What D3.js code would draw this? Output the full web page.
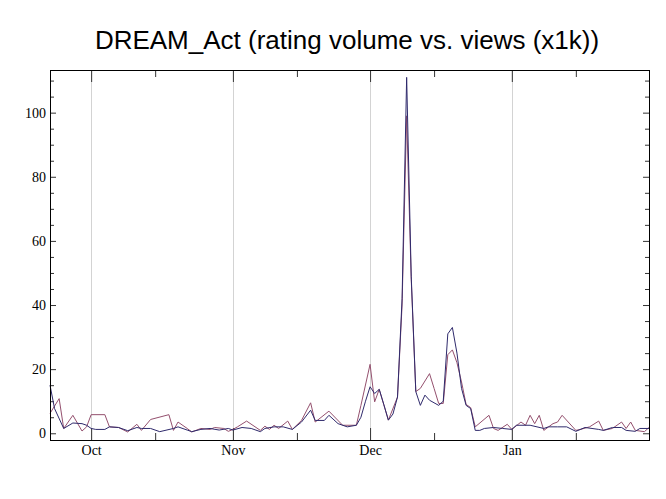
<!DOCTYPE html>
<html>
<head>
<meta charset="utf-8">
<script src="https://cdn.jsdelivr.net/npm/d3@7"></script>
<style>
  body { margin: 0; background: #fff; }
  svg { display: block; }
</style>
</head>
<body>
<svg id="chart"></svg>
<script>
// views (x1k), dark line
const viewDates = [
  "2010-09-22","2010-09-23","2010-09-25","2010-09-27","2010-09-29","2010-09-30",
  "2010-10-01","2010-10-02","2010-10-04","2010-10-05","2010-10-07","2010-10-09",
  "2010-10-11","2010-10-12","2010-10-14","2010-10-16","2010-10-19","2010-10-20",
  "2010-10-22","2010-10-23","2010-10-25","2010-10-27","2010-10-29","2010-10-31",
  "2010-11-01","2010-11-03","2010-11-05","2010-11-07","2010-11-08","2010-11-10",
  "2010-11-12","2010-11-14","2010-11-16","2010-11-18","2010-11-19","2010-11-21",
  "2010-11-22","2010-11-24","2010-11-26","2010-11-28","2010-11-29","2010-11-30",
  "2010-12-01","2010-12-02","2010-12-03","2010-12-04","2010-12-05","2010-12-06",
  "2010-12-07","2010-12-08","2010-12-09","2010-12-10","2010-12-11","2010-12-12",
  "2010-12-13","2010-12-14","2010-12-16","2010-12-17","2010-12-18","2010-12-19",
  "2010-12-20","2010-12-21","2010-12-22","2010-12-23","2010-12-24","2010-12-25",
  "2010-12-26","2010-12-28","2010-12-30","2011-01-01","2011-01-02","2011-01-05",
  "2011-01-08","2011-01-09","2011-01-11","2011-01-13","2011-01-15","2011-01-17",
  "2011-01-20","2011-01-21","2011-01-23","2011-01-25","2011-01-26","2011-01-28",
  "2011-01-29","2011-01-31"
];
const viewValues = [
  15, 7.7, 1.5, 3.2, 3, 2.5,
  1.5, 1.2, 1.2, 2, 1.8, 0.8,
  1.8, 1.5, 1.5, 0.5, 1.5, 2,
  1, 0.5, 1.2, 1.5, 1, 1.5,
  1, 1.8, 1.5, 0.5, 1.5, 2,
  2, 1.2, 3.5, 7.2, 4, 4,
  5.6, 3, 2, 2.5, 5, 10,
  14.5, 12.4, 13.7, 9, 4.1, 6,
  11.3, 42, 111, 49, 13, 8.7,
  11.9, 10.3, 8.7, 10, 31, 33,
  25, 14, 8.7, 7.7, 0.9, 0.9,
  1.5, 1.8, 1.5, 1.2, 2.5, 2.5,
  1.5, 2, 2, 2, 0.6, 1.8,
  1.2, 0.9, 1.8, 1.8, 0.9, 0.6,
  1.5, 1.5
];

// rating volume, mauve line
const ratingDates = [
  "2010-09-22","2010-09-24","2010-09-25","2010-09-27","2010-09-29","2010-09-30",
  "2010-10-01","2010-10-04","2010-10-05","2010-10-07","2010-10-09","2010-10-11",
  "2010-10-12","2010-10-14","2010-10-18","2010-10-19","2010-10-20","2010-10-22",
  "2010-10-23","2010-10-25","2010-10-27","2010-10-28","2010-10-30","2010-10-31",
  "2010-11-01","2010-11-02","2010-11-04","2010-11-07","2010-11-08","2010-11-09",
  "2010-11-10","2010-11-11","2010-11-13","2010-11-14","2010-11-16","2010-11-18",
  "2010-11-19","2010-11-22","2010-11-25","2010-11-28","2010-11-29","2010-12-01",
  "2010-12-02","2010-12-03","2010-12-05","2010-12-07","2010-12-08","2010-12-09",
  "2010-12-10","2010-12-11","2010-12-12","2010-12-14","2010-12-15","2010-12-16",
  "2010-12-17","2010-12-18","2010-12-19","2010-12-20","2010-12-21","2010-12-22",
  "2010-12-23","2010-12-24","2010-12-27","2010-12-28","2010-12-29","2010-12-31",
  "2011-01-01","2011-01-03","2011-01-04","2011-01-05","2011-01-06","2011-01-07",
  "2011-01-08","2011-01-10","2011-01-11","2011-01-12","2011-01-15","2011-01-16",
  "2011-01-18","2011-01-20","2011-01-21","2011-01-23","2011-01-25","2011-01-26",
  "2011-01-27","2011-01-28","2011-01-30","2011-01-31"
];
const ratingValues = [
  6.2, 10.8, 1.5, 5.6, 0.7, 2,
  5.8, 5.8, 2, 1.8, 0.4, 2.8,
  0.9, 4.3, 5.8, 0.9, 3.5, 1.5,
  0.4, 1.5, 1.2, 1.8, 1.5, 0.6,
  1.2, 2, 3.8, 0.9, 2.2, 1.2,
  2.5, 1.5, 3.8, 1.2, 4, 9.5,
  3.5, 6.9, 2.5, 2.5, 8.7, 21.5,
  9.8, 13.7, 4.1, 11.3, 40, 99,
  48, 13, 14, 18.6, 14, 9.3,
  9.3, 24.5, 26, 22, 16, 9,
  8, 2, 5.6, 1.5, 0.9, 2.8,
  1.2, 3.5, 2.5, 5.6, 3, 5.6,
  0.9, 3, 3.5, 5.6, 0.9, 1.2,
  2, 3.8, 0.9, 1.5, 3.5, 1.5,
  3.5, 0.9, 0.5, 1.8
];

const monthTicks = ["2010-10-01", "2010-11-01", "2010-12-01", "2011-01-01"];
const monthLabels = ["Oct", "Nov", "Dec", "Jan"];
const midMonthTicks = ["2010-10-15", "2010-11-15", "2010-12-15", "2011-01-15"];
const yMajorTicks = [0, 20, 40, 60, 80, 100];
const yMinorTicks = [5, 10, 15, 25, 30, 35, 45, 50, 55, 65, 70, 75, 85, 90, 95, 105, 110];

const width = 666;
const height = 499;
const plotLeft = 50, plotRight = 649, plotTop = 70, plotBottom = 440;

const parse = d3.timeParse("%Y-%m-%d");

let svg = d3.select("#chart").attr("width", width).attr("height", height);

let scX = d3.scaleTime()
  .domain([parse("2010-09-22"), parse("2011-01-31")])
  .range([plotLeft, plotRight]);
let scY = d3.scaleLinear()
  .domain([-2.1, 113.3])
  .range([plotBottom, plotTop]);

// vertical grid at month starts
svg.append("g")
  .selectAll("line")
  .data(monthTicks.map(parse))
  .enter()
  .append("line")
  .attr("x1", d => Math.round(scX(d)) + 0.5)
  .attr("x2", d => Math.round(scX(d)) + 0.5)
  .attr("y1", plotTop)
  .attr("y2", plotBottom)
  .attr("stroke", "#d3d3d3")
  .attr("stroke-width", 1);

let serif = "'Liberation Serif', 'DejaVu Serif', serif";

function styleAxis(g) {
  g.select(".domain").remove();
  g.selectAll(".tick line").attr("stroke", "#333");
  g.selectAll("text")
    .attr("font-family", serif)
    .attr("font-size", 14)
    .attr("fill", "#000");
}

// bottom axis: month labels + mid-month minor ticks
svg.append("g")
  .attr("transform", `translate(0, ${plotBottom})`)
  .call(d3.axisBottom(scX)
    .tickValues(monthTicks.map(parse))
    .tickFormat((d, i) => monthLabels[i])
    .tickSize(-12)
    .tickPadding(5))
  .call(styleAxis);
svg.append("g")
  .attr("transform", `translate(0, ${plotBottom})`)
  .call(d3.axisBottom(scX).tickValues(midMonthTicks.map(parse)).tickFormat("").tickSize(-7))
  .call(styleAxis);

// top axis, ticks only
svg.append("g")
  .attr("transform", `translate(0, ${plotTop})`)
  .call(d3.axisTop(scX).tickValues(monthTicks.map(parse)).tickFormat("").tickSize(-12))
  .call(styleAxis);
svg.append("g")
  .attr("transform", `translate(0, ${plotTop})`)
  .call(d3.axisTop(scX).tickValues(midMonthTicks.map(parse)).tickFormat("").tickSize(-7))
  .call(styleAxis);

// left axis
svg.append("g")
  .attr("transform", `translate(${plotLeft}, 0)`)
  .call(d3.axisLeft(scY).tickValues(yMajorTicks).tickSize(-6).tickPadding(4))
  .call(styleAxis);
svg.append("g")
  .attr("transform", `translate(${plotLeft}, 0)`)
  .call(d3.axisLeft(scY).tickValues(yMinorTicks).tickFormat("").tickSize(-4))
  .call(styleAxis);

// right axis, ticks only
svg.append("g")
  .attr("transform", `translate(${plotRight}, 0)`)
  .call(d3.axisRight(scY).tickValues(yMajorTicks).tickFormat("").tickSize(-6))
  .call(styleAxis);
svg.append("g")
  .attr("transform", `translate(${plotRight}, 0)`)
  .call(d3.axisRight(scY).tickValues(yMinorTicks).tickFormat("").tickSize(-4))
  .call(styleAxis);

// the two series
function drawSeries(dates, values, color) {
  let points = dates.map((d, i) => ({ date: parse(d), value: values[i] }));
  let line = d3.line()
    .x(d => scX(d.date))
    .y(d => scY(d.value));
  svg.append("path")
    .datum(points)
    .attr("fill", "none")
    .attr("stroke", color)
    .attr("stroke-width", 1)
    .attr("stroke-linejoin", "round")
    .attr("d", line);
}

drawSeries(ratingDates, ratingValues, "#94506e");
drawSeries(viewDates, viewValues, "#2f2a6c");

// frame
svg.append("rect")
  .attr("x", plotLeft + 0.5)
  .attr("y", plotTop + 0.5)
  .attr("width", plotRight - plotLeft)
  .attr("height", plotBottom - plotTop)
  .attr("fill", "none")
  .attr("stroke", "#000")
  .attr("stroke-width", 1);

// title
svg.append("text")
  .attr("x", 347)
  .attr("y", 49)
  .attr("text-anchor", "middle")
  .attr("font-family", "'Liberation Sans', Arial, sans-serif")
  .attr("font-size", 26)
  .attr("fill", "#000")
  .text("DREAM_Act (rating volume vs. views (x1k))");
</script>
</body>
</html>
